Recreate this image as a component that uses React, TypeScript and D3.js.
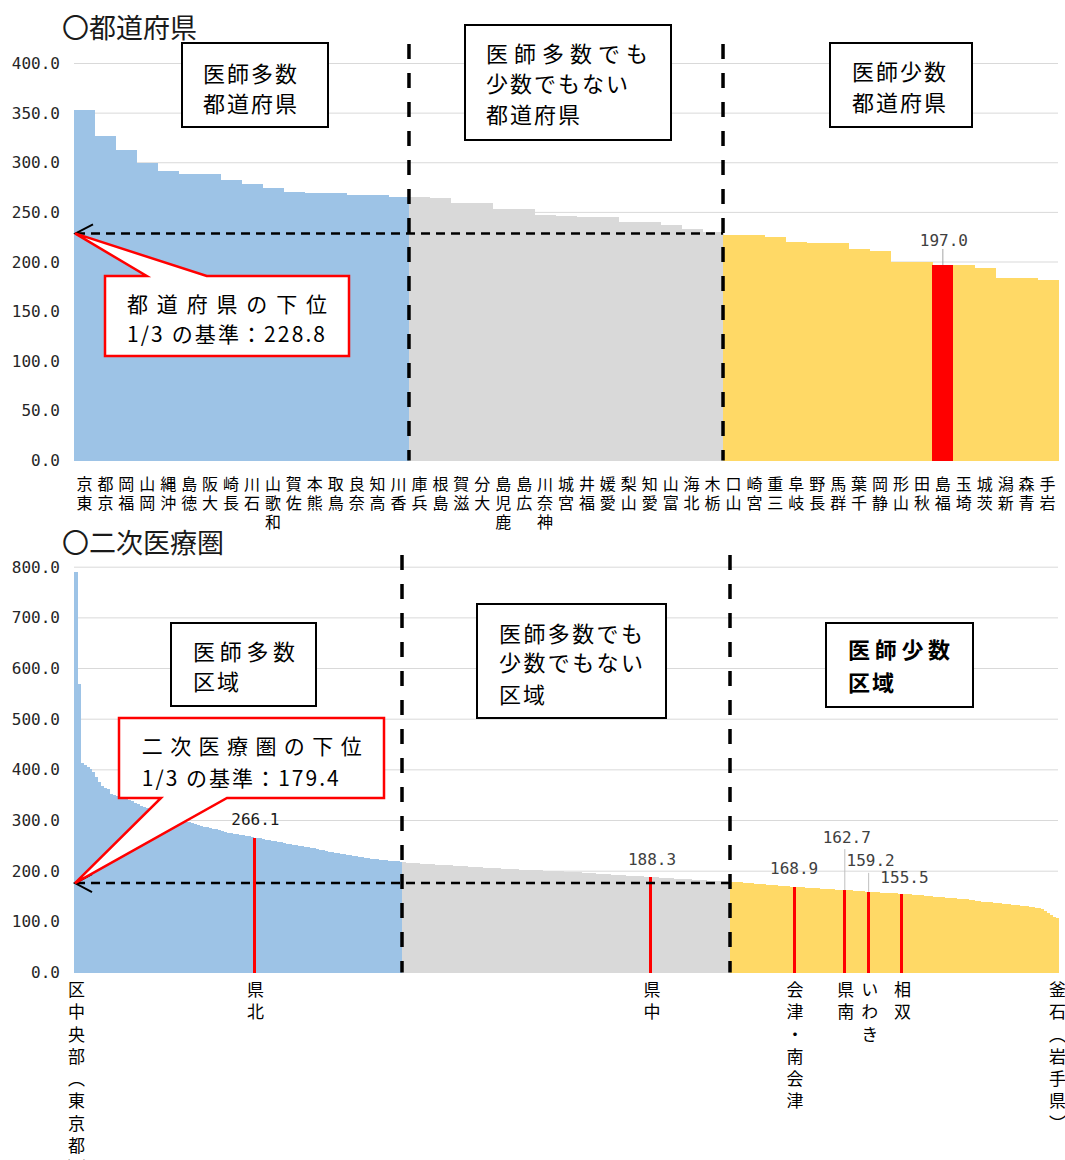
import React from 'react';
import * as d3 from 'd3';

// ---------- DATA ----------
const prefNames = ['東京','京都','福岡','岡山','沖縄','徳島','大阪','長崎','石川','和歌山','佐賀','熊本','鳥取','奈良','高知','香川','兵庫','島根','滋賀','大分','鹿児島','広島','神奈川','宮城','福井','愛媛','山梨','愛知','富山','北海','栃木','山口','宮崎','三重','岐阜','長野','群馬','千葉','静岡','山形','秋田','福島','埼玉','茨城','新潟','青森','岩手'];
const prefValues = [353.2, 326.5, 312.5, 299.5, 291.8, 288.9, 288.2, 283.0, 278.8, 274.4, 271.0, 270.0, 269.6, 267.6, 267.2, 265.9, 265.9, 264.3, 259.3, 259.0, 253.8, 253.6, 247.5, 246.5, 245.2, 245.0, 240.1, 239.8, 237.3, 233.0, 230.6, 227.3, 227.0, 224.9, 220.5, 219.6, 219.4, 213.1, 211.1, 200.4, 199.8, 197.0, 196.6, 193.6, 183.8, 183.5, 181.9];
const prefGroupSizes = [16, 15, 16];
const prefHighlight = '福島';
const prefThreshold = 228.8;
const prefTicks = [0, 50, 100, 150, 200, 250, 300, 350, 400];

const areaValuesHigh = [
  791.0, 569.0, 412.8, 409.5, 406.0, 401.0, 396.0, 385.0, 376.0, 368.0,
  365.0, 363.0, 352.0, 350.0, 348.0, 346.0, 344.0, 342.0, 340.0, 338.0,
  335.0, 332.0, 329.0, 327.0, 325.0, 323.0, 320.0, 318.0, 316.0, 313.0,
  311.0, 309.0, 307.0, 305.0, 303.0, 301.0, 300.0, 298.0, 297.0, 295.0,
  293.0, 291.0, 290.0, 288.0, 287.0, 286.0, 284.0, 283.0, 282.0, 280.0,
  278.0, 276.0, 275.0, 273.5, 272.5, 271.5, 270.5, 269.5, 268.5, 267.5,
  266.1, 265.5, 264.5, 263.5, 262.5, 261.5, 260.5, 259.0, 258.0, 257.0,
  256.0, 254.5, 253.0, 252.0, 251.0, 250.0, 249.0, 248.0, 247.0, 246.0,
  245.0, 243.5, 242.0, 241.0, 239.5, 238.5, 237.5, 236.5, 235.5, 234.5,
  233.5, 232.5, 231.5, 230.5, 229.5, 228.0, 227.0, 226.0, 225.5, 225.0,
  224.5, 224.0, 223.0, 222.0, 221.5, 221.0, 220.5, 220.0, 219.5, 219.0
];
const areaValuesMid = [
  217.5, 217.0, 216.5, 216.0, 215.8, 215.5, 215.0, 214.6, 214.2, 213.8,
  213.5, 213.1, 212.8, 212.4, 212.0, 211.7, 211.3, 211.0, 210.6, 210.2,
  209.8, 209.4, 209.0, 208.6, 208.2, 207.9, 207.5, 207.1, 206.8, 206.4,
  206.0, 205.7, 205.3, 205.0, 204.6, 204.3, 204.0, 203.7, 203.4, 203.1,
  202.9, 202.6, 202.4, 202.1, 201.9, 201.6, 201.4, 201.1, 200.9, 200.6,
  200.3, 200.0, 199.7, 199.4, 199.1, 198.8, 198.5, 198.2, 197.9, 197.6,
  197.2, 196.8, 196.4, 196.0, 195.6, 195.2, 194.8, 194.4, 194.0, 193.6,
  193.2, 192.8, 192.4, 192.0, 191.6, 191.2, 190.9, 190.6, 190.3, 190.0,
  189.6, 189.2, 188.8, 188.3, 188.0, 187.6, 187.2, 186.8, 186.4, 186.0,
  185.6, 185.3, 185.0, 184.7, 184.4, 184.0, 183.6, 183.2, 182.8, 182.4,
  182.0, 181.7, 181.4, 181.1, 180.8, 180.5, 180.2, 180.0, 179.7, 179.5
];
const areaValuesLow = [
  179.2, 178.8, 178.3, 177.9, 177.5, 177.0, 176.6, 176.1, 175.6, 175.1,
  174.6, 174.1, 173.6, 173.1, 172.6, 172.1, 171.6, 171.1, 170.6, 170.0,
  169.4, 168.9, 168.5, 168.1, 167.8, 167.4, 167.1, 166.8, 166.4, 166.0,
  165.6, 165.2, 164.9, 164.6, 164.2, 163.8, 163.4, 163.0, 162.7, 162.3,
  161.9, 161.4, 161.0, 160.5, 160.0, 159.6, 159.2, 158.9, 158.5, 158.2,
  157.9, 157.6, 157.2, 156.8, 156.5, 156.1, 155.8, 155.5, 155.1, 154.7,
  154.3, 153.8, 153.3, 152.8, 152.2, 151.6, 151.0, 150.4, 149.8, 149.3,
  148.8, 148.3, 147.8, 147.3, 146.8, 146.3, 145.8, 145.3, 144.8, 144.3,
  143.5, 142.6, 141.6, 140.7, 139.9, 139.3, 138.7, 138.2, 137.8, 137.3,
  136.6, 135.9, 135.2, 134.5, 133.8, 133.2, 132.6, 132.0, 131.3, 130.6,
  129.8, 128.9, 127.8, 126.5, 124.6, 121.5, 117.0, 113.5, 110.5, 108.5
];
const areaThreshold = 179.4;
const areaTicks = [0, 100, 200, 300, 400, 500, 600, 700, 800];
const areaNamedIdx = [0, 60, 193, 241, 258, 266, 277, 329];
const areaNamedLabels = ['区中央部（東京都）', '県北', '県中', '会津・南会津', '県南', 'いわき', '相双', '釜石（岩手県）'];
const areaRedIdx = [60, 193, 241, 258, 266, 277];

// ---------- STYLE ----------
const BLUE = '#9DC3E6', GRAY = '#D9D9D9', YELLOW = '#FFD966', RED = '#FF0000';
const GRID = '#D9D9D9';
const JP = "'Noto Sans CJK JP', 'Noto Sans', sans-serif";
const MONO = "'DejaVu Sans Mono', 'Liberation Mono', monospace";
const X0 = 74, X1 = 1058;

function groupColor(i: number, sizes: number[]) {
  if (i < sizes[0]) return BLUE;
  if (i < sizes[0] + sizes[1]) return GRAY;
  return YELLOW;
}

function Box({ x, y, w, h, lines, lineYs, tx, ls, bold }: any) {
  return (
    <g>
      <rect x={x} y={y} width={w} height={h} fill="#fff" stroke="#000" strokeWidth={2} />
      {lines.map((t: string, k: number) => (
        <text key={k} x={tx} y={lineYs[k]} fontFamily={JP} fontSize={22} fontWeight={bold ? 700 : 400}
          dominantBaseline="central" letterSpacing={ls[k]} fill="#000">{t}</text>
      ))}
    </g>
  );
}

export default function App() {
  // ----- top chart -----
  const xTop = d3.scaleBand<number>().domain(d3.range(prefNames.length)).range([X0, X1]).padding(0);
  const yTop = d3.scaleLinear().domain([0, 400]).range([460.5, 63.5]);
  const bwT = xTop.bandwidth();
  const b1T = xTop(prefGroupSizes[0])!;
  const b2T = xTop(prefGroupSizes[0] + prefGroupSizes[1])!;
  const thrTY = yTop(prefThreshold);
  const hiIdx = prefNames.indexOf(prefHighlight);

  // ----- bottom chart -----
  const areaValues = [...areaValuesHigh, ...areaValuesMid, ...areaValuesLow];
  const areaGroupSizes = [areaValuesHigh.length, areaValuesMid.length, areaValuesLow.length];
  const xBot = d3.scaleBand<number>().domain(d3.range(areaValues.length)).range([X0, X1]).padding(0);
  const yBot = d3.scaleLinear().domain([0, 800]).range([972.5, 567.2]);
  const bwB = xBot.bandwidth();
  const b1B = xBot(areaGroupSizes[0])!;
  const b2B = xBot(areaGroupSizes[0] + areaGroupSizes[1])!;
  const thrBY = yBot(areaThreshold);
  const fmt = d3.format('.1f');

  // label offsets for the highlighted area values
  const redLabelOffsets: Record<number, [number, number, boolean]> = {
    60: [1, -18, false],
    193: [1, -18, false],
    241: [0, -18, false],
    258: [2, -53, true],
    266: [2, -31, true],
    277: [3, -16, false],
  };

  return (
    <svg width={1065} height={1160} style={{ position: 'absolute', left: 0, top: 0, background: '#fff' }}>
      <rect x={0} y={0} width={1065} height={1160} fill="#fff" />
      {/* ================= TOP ================= */}
      <text x={62} y={26} fontFamily={JP} fontSize={27} dominantBaseline="central" fill="#1a1a1a">〇都道府県</text>
      {prefTicks.map(t => (
        <g key={'gt' + t}>
          <line x1={X0} x2={X1} y1={yTop(t)} y2={yTop(t)} stroke={GRID} strokeWidth={1} />
          <text x={60} y={yTop(t)} textAnchor="end" dominantBaseline="central" fontFamily={MONO} fontSize={16} fill="#262626">{fmt(t)}</text>
        </g>
      ))}
      <g shapeRendering="crispEdges">
        {prefValues.map((v, i) => (
          <rect key={'pt' + i} x={xTop(i)} y={yTop(v)} width={bwT + 0.5} height={yTop(0) - yTop(v)}
            fill={i === hiIdx ? RED : groupColor(i, prefGroupSizes)} />
        ))}
      </g>
      {/* x labels (stacked vertically, read bottom to top) */}
      {prefNames.map((n, i) => (
        <text key={'pl' + i} fontFamily={JP} fontSize={16} fill="#000" style={{ writingMode: 'vertical-rl' as any }}>
          {n.split('').reverse().map((ch, k) => (
            <tspan key={k} x={xTop(i)! + bwT / 2} y={476 + 19 * k}>{ch}</tspan>
          ))}
        </text>
      ))}
      {/* value label for highlight */}
      <line x1={xTop(hiIdx)! + bwT / 2} x2={xTop(hiIdx)! + bwT / 2} y1={yTop(prefValues[hiIdx]) - 16} y2={yTop(prefValues[hiIdx])} stroke="#A6A6A6" strokeWidth={1} />
      <text x={xTop(hiIdx)! + bwT / 2 + 1} y={yTop(prefValues[hiIdx]) - 24} textAnchor="middle" dominantBaseline="central" fontFamily={MONO} fontSize={16} fill="#404040">{fmt(prefValues[hiIdx])}</text>
      {/* dashed separators */}
      <line x1={b1T} x2={b1T} y1={44} y2={yTop(0)} stroke="#000" strokeWidth={3.5} strokeDasharray="15,14" />
      <line x1={b2T} x2={b2T} y1={44} y2={yTop(0)} stroke="#000" strokeWidth={3.5} strokeDasharray="15,14" />
      <line x1={X0 + 2} x2={b2T} y1={thrTY} y2={thrTY} stroke="#000" strokeWidth={2.5} strokeDasharray="9,6" />
      <path d={`M${X0 + 19},${thrTY - 9} L${X0 + 1.5},${thrTY} L${X0 + 19},${thrTY + 9}`} fill="none" stroke="#000" strokeWidth={2} />
      {/* callout */}
      <path d={`M105,276 H146.7 L${X0 + 1},${thrTY} L206.7,276 H349 V356 H105 Z`} fill="#fff" stroke={RED} strokeWidth={2.5} strokeLinejoin="miter" />
      <text x={127} y={303} fontFamily={JP} fontSize={21} dominantBaseline="central" textLength={200} lengthAdjust="spacing" fill="#000">都道府県の下位</text>
      <text x={127} y={333} fontFamily={JP} fontSize={21} dominantBaseline="central" textLength={198} lengthAdjust="spacing" fill="#000">{'1/3 の基準：' + fmt(prefThreshold)}</text>
      {/* boxes */}
      <Box x={182} y={43} w={146} h={84} lines={['医師多数', '都道府県']} lineYs={[71.7, 101.7]} tx={203} ls={[2, 2]} />
      <Box x={465} y={25} w={206} h={115} lines={['医師多数でも', '少数でもない', '都道府県']} lineYs={[51.7, 81.7, 113.3]} tx={486} ls={[6, 2, 2]} />
      <Box x={830} y={43} w={142} h={84} lines={['医師少数', '都道府県']} lineYs={[70, 101]} tx={852} ls={[2, 2]} />

      {/* ================= BOTTOM ================= */}
      <text x={62} y={541} fontFamily={JP} fontSize={27} dominantBaseline="central" fill="#1a1a1a">〇二次医療圏</text>
      {areaTicks.map(t => (
        <g key={'gb' + t}>
          <line x1={X0} x2={X1} y1={yBot(t)} y2={yBot(t)} stroke={GRID} strokeWidth={1} />
          <text x={60} y={yBot(t)} textAnchor="end" dominantBaseline="central" fontFamily={MONO} fontSize={16} fill="#262626">{fmt(t)}</text>
        </g>
      ))}
      <g shapeRendering="crispEdges">
        {areaValues.map((v, i) => (
          <rect key={'ab' + i} x={xBot(i)} y={yBot(v)} width={bwB + 0.6} height={yBot(0) - yBot(v)}
            fill={groupColor(i, areaGroupSizes)} />
        ))}
        {areaRedIdx.map(i => (
          <rect key={'ar' + i} x={xBot(i)} y={yBot(areaValues[i])} width={bwB} height={yBot(0) - yBot(areaValues[i])} fill={RED} />
        ))}
      </g>
      {/* dashed separators */}
      <line x1={b1B} x2={b1B} y1={555} y2={yBot(0)} stroke="#000" strokeWidth={3.5} strokeDasharray="15,14" />
      <line x1={b2B} x2={b2B} y1={555} y2={yBot(0)} stroke="#000" strokeWidth={3.5} strokeDasharray="15,14" />
      <line x1={X0 + 2} x2={b2B} y1={thrBY + 1.5} y2={thrBY + 1.5} stroke="#000" strokeWidth={2.5} strokeDasharray="9,6" />
      <path d={`M${X0 + 18},${thrBY + 1.5 - 9} L${X0 + 1},${thrBY + 1.5} L${X0 + 18},${thrBY + 1.5 + 9}`} fill="none" stroke="#000" strokeWidth={2} />
      {/* value labels */}
      {areaRedIdx.map(i => {
        const [dx, dy, leader] = redLabelOffsets[i];
        const cx = xBot(i)! + bwB / 2;
        const ty = yBot(areaValues[i]) + dy;
        return (
          <g key={'vl' + i}>
            {leader && <line x1={cx} x2={cx} y1={ty + 12} y2={yBot(areaValues[i])} stroke="#BFBFBF" strokeWidth={1} />}
            <text x={cx + dx} y={ty} textAnchor="middle" dominantBaseline="central" fontFamily={MONO} fontSize={16}
              fill={i === 60 ? '#1a1a1a' : '#404040'}>{fmt(areaValues[i])}</text>
          </g>
        );
      })}
      {/* callout */}
      <path d={`M119,718 H384 V798 H227 L${X0 + 1},${thrBY + 1.5} L161,798 H119 Z`} fill="#fff" stroke={RED} strokeWidth={2.5} />
      <text x={141.7} y={745} fontFamily={JP} fontSize={21} dominantBaseline="central" textLength={220} lengthAdjust="spacing" fill="#000">二次医療圏の下位</text>
      <text x={141.7} y={776.7} fontFamily={JP} fontSize={21} dominantBaseline="central" textLength={197} lengthAdjust="spacing" fill="#000">{'1/3 の基準：' + fmt(areaThreshold)}</text>
      {/* boxes */}
      <Box x={171} y={623} w={145} h={83} lines={['医師多数', '区域']} lineYs={[650, 680]} tx={193} ls={[4.7, 2]} />
      <Box x={477} y={604} w={189} h={114} lines={['医師多数でも', '少数でもない', '区域']} lineYs={[631.5, 661, 692.5]} tx={499} ls={[2.4, 2.4, 2]} />
      <Box x={826} y={623} w={147} h={84} lines={['医師少数', '区域']} lineYs={[648, 681]} tx={848} ls={[4.7, 2]} bold />
      {/* x labels (vertical) */}
      {areaNamedIdx.map((i, k) => (
        <text key={'an' + i} x={xBot(i)! + bwB / 2 + 1} y={981} fontFamily={JP} fontSize={17}
          style={{ writingMode: 'vertical-rl' as any }} letterSpacing={5.3} fill="#000">{areaNamedLabels[k]}</text>
      ))}
    </svg>
  );
}
